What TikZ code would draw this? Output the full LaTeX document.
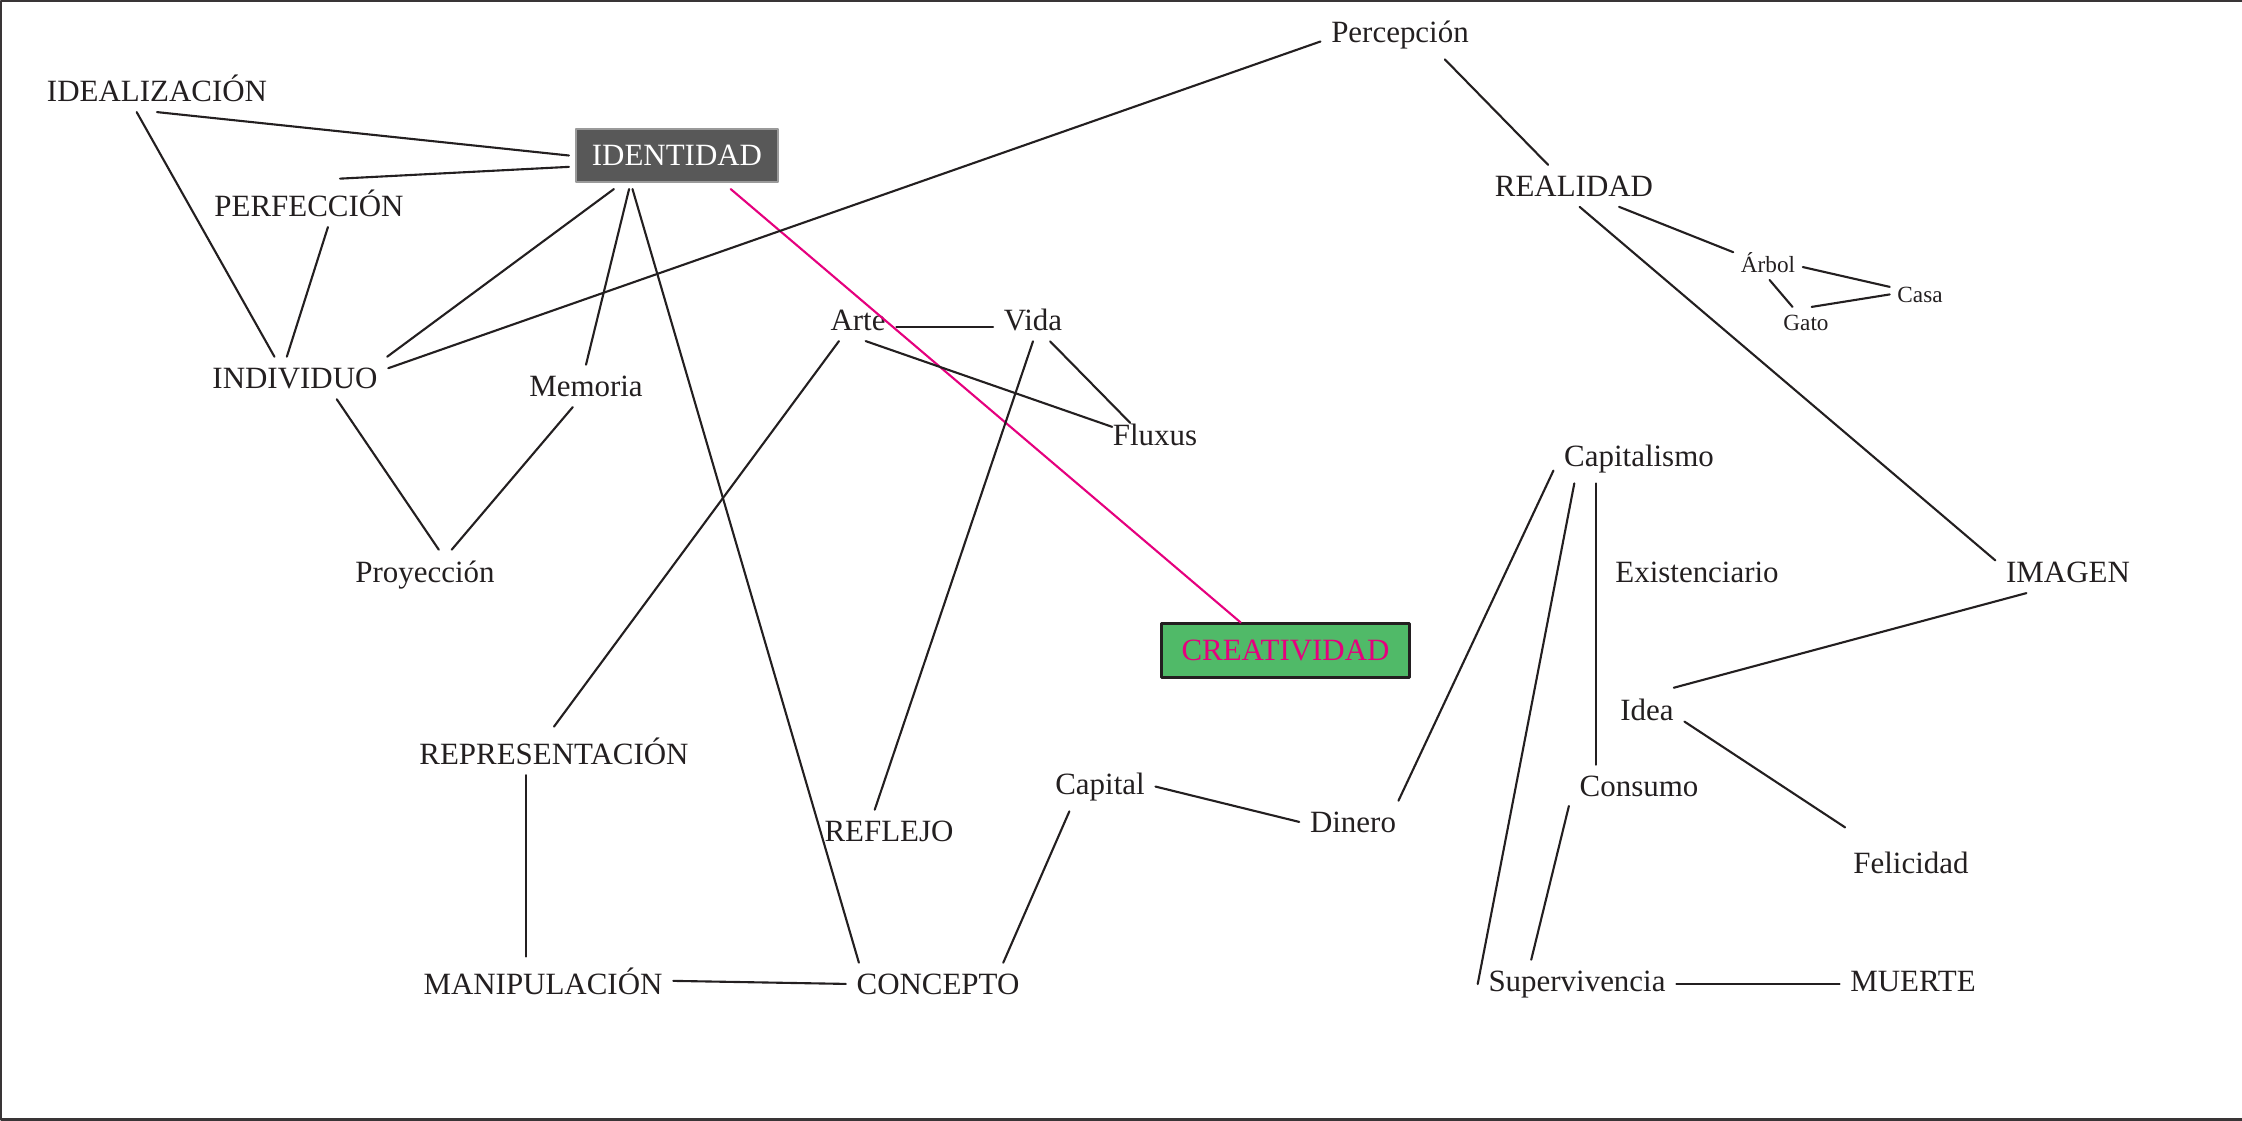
\documentclass[tikz,border=0pt]{standalone}
\usepackage{fontspec}
\setmainfont{Liberation Serif}
\usepackage{tikz}
\definecolor{inkgray}{HTML}{231F20}
\definecolor{boxgray}{HTML}{585858}
\definecolor{boxline}{HTML}{9A9A9A}
\definecolor{creagreen}{HTML}{50BA68}
\definecolor{creapink}{HTML}{E5007E}

\tikzset{
  concept/.style={anchor=base, text=inkgray, font=\fontsize{8.8}{10}\selectfont, inner sep=2.87pt},
  smallconcept/.style={concept, font=\fontsize{6.6}{8}\selectfont, inner sep=2pt},
  darkbox/.style={draw=boxline, line width=0.4pt, fill=boxgray, text=white, font=\fontsize{8.8}{10}\selectfont,
    minimum width=2.02cm, minimum height=0.53cm, inner sep=0pt, outer sep=2pt},
  greenbox/.style={draw=inkgray, line width=0.85pt, fill=creagreen, text=creapink, font=\fontsize{8.8}{10}\selectfont,
    minimum width=2.47cm, minimum height=0.53cm, inner sep=0pt},
  link/.style={draw=inkgray, line width=0.6pt},
  pinklink/.style={draw=creapink, line width=0.6pt}
}

\begin{document}
\begin{tikzpicture}[line cap=round,line join=round,x=0.01cm,y=-0.01cm]
        \useasboundingbox (0,0) rectangle (2242,1121);
        \draw [draw=inkgray!90, line width=0.8pt] (2242,1) -- (1,1) -- (1,1119.5) -- (2242,1119.5);
        \node [concept] (idealizacion) at (157,101) {IDEALIZACIÓN};
        \node [darkbox] (identidad) at (677,155.5) {IDENTIDAD};
        \node [concept] (perfeccion) at (309,216) {PERFECCIÓN};
        \node [concept] (individuo) at (295,388) {INDIVIDUO};
        \node [concept] (memoria) at (586,396) {Memoria};
        \node [concept] (proyeccion) at (425,582) {Proyección};
        \node [concept] (arte) at (858,330) {Arte};
        \node [concept] (vida) at (1033,330) {Vida};
        \node [concept, inner sep=0pt] (fluxus) at (1155,445) {Fluxus};
        \node [greenbox] (creatividad) at (1285.5,650.5) {CREATIVIDAD};
        \node [concept] (percepcion) at (1400,42) {Percepción};
        \node [concept] (realidad) at (1574,196) {REALIDAD};
        \node [smallconcept] (arbol) at (1768,272) {Árbol};
        \node [smallconcept] (casa) at (1920,302) {Casa};
        \node [smallconcept] (gato) at (1806,330) {Gato};
        \node [concept] (capitalismo) at (1639,466) {Capitalismo};
        \node [concept] (existenciario) at (1697,582) {Existenciario};
        \node [concept] (imagen) at (2068,582) {IMAGEN};
        \node [concept] (idea) at (1647,720) {Idea};
        \node [concept] (consumo) at (1639,796) {Consumo};
        \node [concept, outer sep=4pt] (felicidad) at (1911,873) {Felicidad};
        \node [concept] (supervivencia) at (1577,991) {Supervivencia};
        \node [concept] (muerte) at (1913,991) {MUERTE};
        \node [concept] (dinero) at (1353,832) {Dinero};
        \node [concept] (capital) at (1100,794) {Capital};
        \node [concept] (reflejo) at (889,841) {REFLEJO};
        \node [concept] (representacion) at (554,764) {REPRESENTACIÓN};
        \node [concept] (manipulacion) at (543,994) {MANIPULACIÓN};
        \node [concept] (concepto) at (938,994) {CONCEPTO};
        \draw [link] (idealizacion.south) -- (identidad.west);
        \draw [link] (idealizacion.230) -- (individuo.134);
        \draw [link] (perfeccion.38) -- (identidad.186);
        \draw [link] (perfeccion.308) -- (individuo.111);
        \draw [link] (identidad.208) -- (individuo.13);
        \draw [link] (identidad.215) -- (memoria.north);
        \draw [link] (identidad.217) -- (concepto.165);
        \draw [pinklink] (identidad.328) -- (creatividad.148);
        \draw [link] (individuo.6) -- (percepcion.185);
        \draw [link] (individuo.333) -- (proyeccion.61);
        \draw [link] (memoria.238) -- (proyeccion.43);
        \draw [link] (arte.349) -- (arte.349 -| vida.west);
        \draw [link] (arte.290) -- (fluxus.170);
        \draw [link] (vida.308) -- (fluxus.155);
        \draw [link] (arte.228) -- (representacion.north);
        \draw [link] (vida.south) -- (reflejo.124);
        \draw [link] (representacion.221) -- (representacion.221 |- manipulacion.north);
        \draw [link] (manipulacion.east) -- (concepto.west);
        \draw [link] (concepto.18) -- (capital.219);
        \draw [link] (capital.east) -- (dinero.west);
        \draw [link] (dinero.25) -- (capitalismo.188);
        \draw [link] (percepcion.331) -- (realidad.141);
        \draw [link] (realidad.335) -- (arbol.164);
        \draw [link] (realidad.285) -- (imagen.171);
        \draw [link] (arbol.352) -- (casa.166);
        \draw [link] (arbol.275) -- (gato.131);
        \draw [link] (gato.70) -- (casa.west);
        \draw [link] (capitalismo.201) -- (supervivencia.west);
        \draw [link] (capitalismo.210) -- (capitalismo.210 |- consumo.north);
        \draw [link] (imagen.207) -- (idea.39);
        \draw [link] (idea.342) -- (felicidad.152);
        \draw [link] (consumo.196) -- (supervivencia.152);
        \draw [link] (supervivencia.east) -- (supervivencia.east -| muerte.west);
\end{tikzpicture}
\end{document}
